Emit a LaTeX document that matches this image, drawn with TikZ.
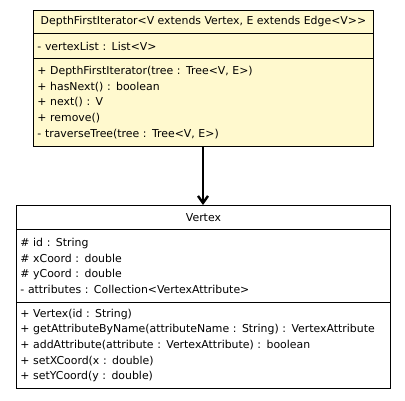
\documentclass[tikz,border=0pt]{standalone}
\usepackage{fontspec}
\setmainfont{DejaVu Sans}
\usetikzlibrary{arrows.meta}
\definecolor{classfill}{HTML}{FFF9CE}
\begin{document}
\begin{tikzpicture}[x=1pt,y=-1pt,
      compart/.style={draw, line width=0.9pt, anchor=north west, inner sep=0pt, inner xsep=4pt,
        font=\fontsize{10.9}{15.6}\selectfont},
      headpart/.style={compart, align=center},
      bodypart/.style={compart, align=left, text width=#1}
    ]
    \useasboundingbox (0,0) rectangle (405,400);

    % DepthFirstIterator class
    \node[headpart, fill=classfill, minimum width=340, minimum height=23] (DH) at (33,10)
      {DepthFirstIterator<V extends Vertex, E extends Edge<V>{}>};
    \node[bodypart=332, fill=classfill, minimum height=25] (DA) at (33,33)
      {- vertexList : List<V>};
    \node[bodypart=332, fill=classfill, minimum height=88] (DO) at (33,58)
      {+ DepthFirstIterator(tree : Tree<V, E>)\\
       + hasNext() : boolean\\
       + next() : V\\
       + remove()\\
       - traverseTree(tree : Tree<V, E>)};

    % Vertex class
    \node[headpart, fill=white, minimum width=374, minimum height=24] (VH) at (16,205)
      {Vertex};
    \node[bodypart=366, minimum height=73] (VA) at (16,229)
      {\# id : String\\
       \# xCoord : double\\
       \# yCoord : double\\
       - attributes : Collection<VertexAttribute>};
    \node[bodypart=366, minimum height=86] (VO) at (16,302)
      {+ Vertex(id : String)\\
       + getAttributeByName(attributeName : String) : VertexAttribute\\
       + addAttribute(attribute : VertexAttribute) : boolean\\
       + setXCoord(x : double)\\
       + setYCoord(y : double)};

    % dependency
    \draw[line width=1.1pt, -{Straight Barb[length=7pt,width=10pt,line width=2.4pt]}]
      (DO.south -| 203,0) -- (VH.north -| 203,0);

    \end{tikzpicture}
\end{document}
